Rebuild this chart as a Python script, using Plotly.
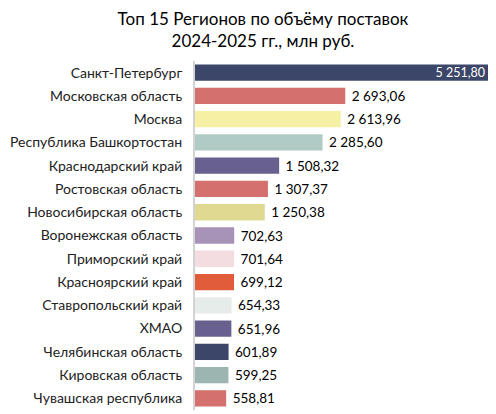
import plotly.graph_objects as go

regions = [
    "Санкт-Петербург", "Московская область", "Москва", "Республика Башкортостан",
    "Краснодарский край", "Ростовская область", "Новосибирская область",
    "Воронежская область", "Приморский край", "Красноярский край",
    "Ставропольский край", "ХМАО", "Челябинская область", "Кировская область",
    "Чувашская республика",
]
values = [5251.80, 2693.06, 2613.96, 2285.60, 1508.32, 1307.37, 1250.38,
          702.63, 701.64, 699.12, 654.33, 651.96, 601.89, 599.25, 558.81]
colors = ["#3b4668", "#d4706e", "#f5f0a4", "#b0cbc6", "#68608f", "#d4706e",
          "#e0d992", "#a893b8", "#f3dde0", "#e05c3a", "#e6ecea", "#68608f",
          "#3b4668", "#9db5b0", "#d4706e"]


def fmt(v):
    s = f"{v:,.2f}"
    return s.replace(",", " ").replace(".", ",")


labels = [fmt(v) for v in values]
labels = [labels[0]] + [" " + t for t in labels[1:]]
positions = ["inside"] + ["outside"] * (len(values) - 1)
text_colors = ["white"] + ["black"] * (len(values) - 1)
text_sizes = [12.5] + [13.5] * (len(values) - 1)

fig = go.Figure(go.Bar(
    x=values, y=regions, orientation="h",
    marker=dict(color=colors, line=dict(width=0)),
    text=labels, textposition=positions,
    textfont=dict(color=text_colors, size=text_sizes, family="Lato"),
    insidetextanchor="end", cliponaxis=False,
    hoverinfo="skip",
))

fig.update_layout(
    width=488, height=406,
    margin=dict(l=187, r=8, t=53, b=4, autoexpand=False),
    paper_bgcolor="white", plot_bgcolor="white",
    bargap=0.3,
    font=dict(family="Lato", size=14, color="#222222"),
    uniformtext=dict(minsize=12, mode="show"),
    title=dict(
        text="Топ 15 Регионов по объёму поставок<br>2024-2025 гг., млн руб.",
        x=0.5225, xanchor="center", xref="container", yref="container",
        y=0.958, yanchor="middle",
        font=dict(family="Lato", size=17, color="black"),
    ),
    xaxis=dict(range=[0, 5251.8], visible=False, showgrid=False, zeroline=False,
               automargin=False),
    yaxis=dict(autorange="reversed", showgrid=False, zeroline=False,
               automargin=False,
               showline=True, linecolor="#d3d3d3", linewidth=2,
               ticks="", ticklabelstandoff=8,
               tickfont=dict(family="Lato", size=14, color="#222222")),
    showlegend=False,
)

fig.write_html("out.html")
